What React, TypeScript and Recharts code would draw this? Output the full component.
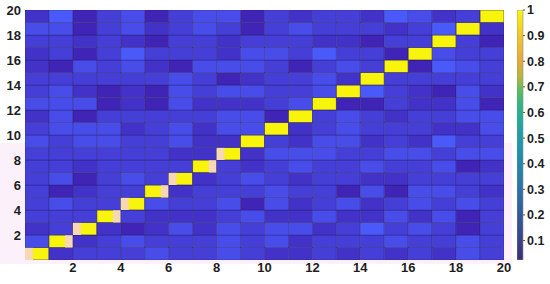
import React from "react";
import {
  ScatterChart, Scatter, XAxis, YAxis, ZAxis,
  BarChart, Bar,
} from "recharts";

// Heat-map rows (row 1 = bottom, row 20 = top); columns 1..20
const row1 = [1, 0.06, 0.08, 0.08, 0.08, 0.10, 0.08, 0.08, 0.10, 0.08, 0.06, 0.06, 0.08, 0.06, 0.08, 0.06, 0.08, 0.06, 0.10, 0.08];
const row2 = [0.10, 1, 0.06, 0.08, 0.10, 0.08, 0.08, 0.08, 0.10, 0.08, 0.10, 0.06, 0.08, 0.08, 0.08, 0.10, 0.08, 0.08, 0.10, 0.08];
const row3 = [0.06, 0.08, 1, 0.06, 0.04, 0.06, 0.10, 0.06, 0.10, 0.08, 0.10, 0.10, 0.06, 0.08, 0.12, 0.08, 0.10, 0.08, 0.04, 0.08];
const row4 = [0.08, 0.08, 0.08, 1, 0.08, 0.06, 0.06, 0.06, 0.08, 0.10, 0.06, 0.06, 0.10, 0.06, 0.06, 0.10, 0.06, 0.10, 0.04, 0.08];
const row5 = [0.08, 0.10, 0.08, 0.08, 1, 0.10, 0.08, 0.08, 0.10, 0.04, 0.10, 0.06, 0.08, 0.10, 0.06, 0.08, 0.10, 0.08, 0.10, 0.08];
const row6 = [0.08, 0.04, 0.06, 0.08, 0.08, 1, 0.06, 0.08, 0.08, 0.08, 0.10, 0.08, 0.08, 0.04, 0.10, 0.04, 0.10, 0.10, 0.08, 0.06];
const row7 = [0.08, 0.10, 0.04, 0.08, 0.10, 0.08, 1, 0.06, 0.08, 0.10, 0.08, 0.06, 0.08, 0.08, 0.06, 0.06, 0.08, 0.08, 0.08, 0.08];
const row8 = [0.08, 0.08, 0.06, 0.08, 0.08, 0.08, 0.08, 1, 0.08, 0.06, 0.08, 0.10, 0.08, 0.08, 0.10, 0.08, 0.08, 0.10, 0.04, 0.06];
const row9 = [0.08, 0.08, 0.08, 0.08, 0.08, 0.08, 0.06, 0.06, 1, 0.06, 0.10, 0.10, 0.10, 0.08, 0.08, 0.10, 0.10, 0.08, 0.10, 0.10];
const row10 = [0.10, 0.08, 0.10, 0.10, 0.08, 0.08, 0.10, 0.06, 0.06, 1, 0.08, 0.06, 0.10, 0.10, 0.06, 0.08, 0.06, 0.12, 0.08, 0.08];
const row11 = [0.08, 0.10, 0.10, 0.10, 0.06, 0.08, 0.10, 0.06, 0.10, 0.10, 1, 0.06, 0.08, 0.10, 0.08, 0.08, 0.08, 0.06, 0.06, 0.10];
const row12 = [0.06, 0.10, 0.04, 0.08, 0.08, 0.08, 0.08, 0.08, 0.10, 0.10, 0.04, 1, 0.08, 0.10, 0.08, 0.06, 0.08, 0.08, 0.10, 0.10];
const row13 = [0.10, 0.10, 0.10, 0.04, 0.06, 0.04, 0.10, 0.06, 0.06, 0.06, 0.08, 0.10, 1, 0.04, 0.04, 0.08, 0.06, 0.06, 0.10, 0.04];
const row14 = [0.08, 0.10, 0.06, 0.04, 0.06, 0.04, 0.10, 0.08, 0.10, 0.10, 0.08, 0.08, 0.10, 1, 0.12, 0.08, 0.06, 0.04, 0.10, 0.06];
const row15 = [0.08, 0.08, 0.08, 0.08, 0.08, 0.08, 0.10, 0.08, 0.04, 0.06, 0.08, 0.08, 0.10, 0.06, 1, 0.08, 0.08, 0.08, 0.08, 0.08];
const row16 = [0.06, 0.04, 0.10, 0.08, 0.10, 0.06, 0.04, 0.10, 0.10, 0.10, 0.08, 0.04, 0.08, 0.10, 0.08, 1, 0.04, 0.12, 0.10, 0.08];
const row17 = [0.06, 0.08, 0.04, 0.08, 0.12, 0.08, 0.08, 0.08, 0.06, 0.10, 0.10, 0.08, 0.12, 0.08, 0.08, 0.04, 1, 0.10, 0.08, 0.08];
const row18 = [0.08, 0.08, 0.06, 0.08, 0.06, 0.04, 0.08, 0.08, 0.06, 0.08, 0.08, 0.08, 0.06, 0.06, 0.04, 0.08, 0.08, 1, 0.08, 0.04];
const row19 = [0.10, 0.10, 0.04, 0.08, 0.10, 0.06, 0.08, 0.10, 0.08, 0.04, 0.08, 0.10, 0.08, 0.08, 0.08, 0.06, 0.08, 0.12, 1, 0.06];
const row20 = [0.06, 0.12, 0.04, 0.08, 0.10, 0.04, 0.08, 0.10, 0.10, 0.04, 0.08, 0.06, 0.08, 0.08, 0.06, 0.12, 0.10, 0.06, 0.08, 1];

const rows = [row1, row2, row3, row4, row5, row6, row7, row8, row9, row10,
  row11, row12, row13, row14, row15, row16, row17, row18, row19, row20];

const axisTicks = [2, 4, 6, 8, 10, 12, 14, 16, 18, 20];
const colorbarTicks = [0.1, 0.2, 0.3, 0.4, 0.5, 0.6, 0.7, 0.8, 0.9, 1];
const colorbarMin = 0.024;

// layout
const W = 550, H = 284;
const M = { top: 10, right: 46, bottom: 0, left: 0 };
const YW = 25, XH = 24;
const PLOT_W = W - M.left - M.right - YW;
const PLOT_H = H - M.top - M.bottom - XH;
const CELL_W = PLOT_W / 20;
const CELL_H = PLOT_H / 20;

const cells = rows.flatMap((r, ri) =>
  r.map((v, ci) => ({ x: ci + 0.5, y: ri + 0.5, v, row: ri + 1, col: ci + 1 }))
);

const DARK = [64, 36, 182];
const LIGHT = [74, 90, 250];
function cellColor(v: number) {
  if (v >= 0.5) return "#f8f40c";
  const t = Math.max(0, Math.min(1, (v - 0.04) / 0.08));
  const c = DARK.map((d, i) => Math.round(d + (LIGHT[i] - d) * t));
  return `rgb(${c[0]},${c[1]},${c[2]})`;
}

const CellShape = (props: any) => {
  const { cx, cy, payload } = props;
  const x = cx - CELL_W / 2;
  const y = cy - CELL_H / 2;
  const diag = payload.v >= 0.5;
  const ghost = diag && payload.row <= 9;
  const gw = CELL_W * 0.33;
  return (
    <g>
      <rect x={x} y={y} width={CELL_W} height={CELL_H} fill={cellColor(payload.v)}
        stroke="#1c1850" strokeOpacity={diag ? 0.7 : 0.38} strokeWidth={0.8} />
      {ghost && (
        <rect x={payload.row % 2 === 1 ? x : x + CELL_W - gw} y={y} width={gw} height={CELL_H}
          fill="#f6d8b4" />
      )}
    </g>
  );
};

const tickStyle = { fontFamily: "Liberation Sans, Arial, sans-serif", fontWeight: 700, fontSize: 13, fill: "#1e1e1e" };
const cbTickStyle = { fontFamily: "Liberation Sans, Arial, sans-serif", fontWeight: 700, fontSize: 12.5, fill: "#1e1e1e" };

const cbData = [{ name: "cb", range: [colorbarMin, 1] }];
const gradStops: [number, string][] = [
  [1.0, "#f9f510"],
  [0.9, "#f0c82a"],
  [0.8, "#e6a93a"],
  [0.74, "#b8b63e"],
  [0.69, "#62bd58"],
  [0.64, "#35b87c"],
  [0.58, "#22ae94"],
  [0.5, "#1c9ca8"],
  [0.4, "#2388ad"],
  [0.3, "#2c72a7"],
  [0.2, "#35599a"],
  [0.1, "#3b4189"],
  [colorbarMin, "#3e2c78"],
];

export default function App() {
  return (
    <div style={{ position: "absolute", left: 0, top: 0, width: W, height: H, background: "#fff" }}>
      {/* faint light-pink halo seen in the reference */}
      <div style={{ position: "absolute", left: 0, top: 143, width: 25, height: 121, background: "#fcf0fb" }} />
      <div style={{ position: "absolute", left: 15, top: 260, width: 497, height: 4, background: "#fcf0fb" }} />
      <div style={{ position: "absolute", left: 504, top: 143, width: 8, height: 121, background: "#fcf0fb" }} />
      <div style={{ position: "absolute", left: 0, top: 0 }}>
        <ScatterChart width={W} height={H} margin={M}>
          <XAxis type="number" dataKey="x" domain={[0, 20]} ticks={axisTicks} interval={0}
            axisLine={false} tickLine={false} tickSize={0} tickMargin={3} height={XH} tick={tickStyle}
            allowDataOverflow />
          <YAxis type="number" dataKey="y" domain={[0, 20]} ticks={axisTicks} interval={0}
            axisLine={false} tickLine={false} tickSize={0} tickMargin={4} width={YW} tick={tickStyle}
            allowDataOverflow />
          <ZAxis range={[10, 10]} />
          <Scatter data={cells} shape={<CellShape />} isAnimationActive={false} />
        </ScatterChart>
      </div>
      <div style={{ position: "absolute", left: 517, top: 0 }}>
        <BarChart width={33} height={H} data={cbData} margin={{ top: 10, bottom: 24, left: 0, right: 0 }}
          barCategoryGap={0}>
          <defs>
            <linearGradient id="cbGrad" x1="0" y1="0" x2="0" y2="1">
              {gradStops.map(([v, c]) => (
                <stop key={v} offset={`${((1 - v) / (1 - colorbarMin)) * 100}%`} stopColor={c} />
              ))}
            </linearGradient>
          </defs>
          <XAxis dataKey="name" hide />
          <YAxis orientation="right" type="number" domain={[colorbarMin, 1]} ticks={colorbarTicks}
            interval={0} width={27} axisLine={false} tickSize={2} tickMargin={2}
            tickLine={{ stroke: "#555" }} tick={cbTickStyle}
            tickFormatter={(v: number) => String(Number(v.toFixed(1)))} allowDataOverflow />
          <Bar dataKey="range" fill="url(#cbGrad)" stroke="#8a8a9a" strokeWidth={0.6} isAnimationActive={false} />
        </BarChart>
      </div>
    </div>
  );
}
